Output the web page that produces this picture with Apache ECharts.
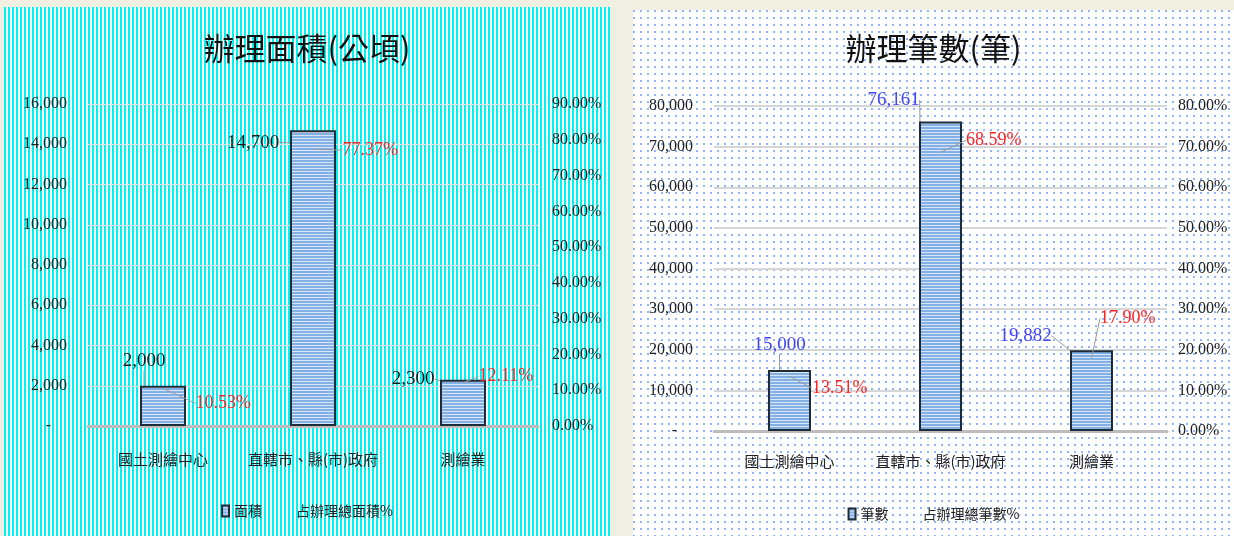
<!DOCTYPE html>
<html>
<head>
<meta charset="utf-8">
<script src="https://cdn.jsdelivr.net/npm/echarts@6/dist/echarts.min.js"></script>
<style>
html, body { margin: 0; padding: 0; width: 1234px; height: 536px; overflow: hidden; background: #f1eee2; }
#area { position: absolute; left: 4px; top: 7px; width: 606px; height: 529px;
  background: repeating-linear-gradient(90deg, #00f2f2 0, #00f2f2 2px, #ffffff 2px, #ffffff 4px); }
#count { position: absolute; left: 633px; top: 10px; width: 601px; height: 526px; background-color: #fff;
  background-image: radial-gradient(circle at 1px 1px, #6b9af3 0.6px, transparent 1px);
  background-size: 7px 7px; }
</style>
</head>
<body>
<div id="area"></div>
<div id="count"></div>
<script>
var categories = ['國土測繪中心', '直轄市、縣(市)政府', '測繪業'];
var areaValues = [2000, 14700, 2300];      // 面積(公頃)
var areaShare = [10.53, 77.37, 12.11];     // 占辦理總面積%
var countValues = [15000, 76161, 19882];   // 筆數
var countShare = [13.51, 68.59, 17.90];    // 占辦理總筆數%

var cjk = '"Noto Sans CJK TC", "Noto Sans CJK SC", sans-serif';
var num = '"Liberation Serif", "DejaVu Serif", serif';

function stripes() {
  var c = document.createElement('canvas');
  c.width = 4; c.height = 3;
  var g = c.getContext('2d');
  g.fillStyle = '#84b0e4';
  g.fillRect(0, 0, 4, 3);
  g.fillStyle = '#d6e6f8';
  g.fillRect(0, 2, 4, 1);
  return c;
}

function thousands(v) {
  if (v === 0) return '-    ';
  return v.toLocaleString('en-US');
}

function buildOption(o) {
  var line = { show: true, lineStyle: { color: '#9a9a9a', width: 1 } };
  return {
    animation: false,
    title: {
      text: o.title, left: 'center', top: o.titleTop,
      textStyle: { fontFamily: cjk, fontSize: 31, fontWeight: 'normal', color: '#111' }
    },
    legend: {
      left: 'center', top: 492, itemWidth: 7, itemHeight: 11, itemGap: 22,
      textStyle: { fontFamily: cjk, fontSize: 14, color: '#222' },
      data: [{ name: o.barName, icon: 'rect' }, { name: o.pctName, icon: 'none' }]
    },
    grid: o.grid,
    xAxis: {
      type: 'category', data: categories,
      axisTick: { show: false },
      axisLine: { lineStyle: { color: '#bdbdbd', width: 3 } },
      axisLabel: { interval: 0, margin: o.catMargin, fontFamily: cjk, fontSize: 15, color: '#222' }
    },
    yAxis: [{
      type: 'value', min: 0, max: o.max, interval: o.step,
      axisLine: { show: false }, axisTick: { show: false },
      splitLine: { lineStyle: { color: o.gridColor, width: o.gridWidth } },
      axisLabel: { formatter: thousands, fontFamily: num, fontSize: 16, color: '#222', margin: 21 }
    }, {
      type: 'value', min: 0, max: o.pctMax, interval: 10,
      axisLine: { show: false }, axisTick: { show: false },
      splitLine: { show: false },
      axisLabel: { formatter: function (v) { return v.toFixed(2) + '%'; },
        fontFamily: num, fontSize: 16, color: '#222', margin: o.pctMargin }
    }],
    series: [{
      name: o.barName, type: 'bar', data: o.values, barWidth: o.barWidth,
      itemStyle: { color: { image: stripes(), repeat: 'repeat' }, borderColor: '#1e2b38', borderWidth: 2 },
      label: { show: true, position: 'top', distance: 5,
        formatter: function (p) { return p.value.toLocaleString('en-US'); },
        fontFamily: num, fontSize: 19, color: o.valueColor },
      labelLayout: function (p) { var s = o.valueShift[p.dataIndex]; return { dx: s[0], dy: s[1] }; },
      labelLine: line
    }, {
      name: o.pctName, type: 'line', yAxisIndex: 1, data: o.share,
      symbol: 'circle', symbolSize: 1,
      itemStyle: { color: 'rgba(0,0,0,0)' },
      lineStyle: { width: 0, opacity: 0 },
      label: { show: true, position: 'right', distance: 5,
        formatter: function (p) { return p.value.toFixed(2) + '%'; },
        fontFamily: num, fontSize: 18, color: '#ff2323' },
      labelLayout: function (p) { var s = o.shareShift[p.dataIndex]; return { dx: s[0], dy: s[1] }; },
      labelLine: line
    }]
  };
}

var areaChart = echarts.init(document.getElementById('area'), null, { renderer: 'canvas' });
areaChart.setOption(buildOption({
  title: '辦理面積(公頃)', titleTop: 21,
  barName: '面積', pctName: '占辦理總面積%',
  values: areaValues, share: areaShare,
  max: 16000, step: 2000, pctMax: 90,
  grid: { left: 84, right: 72, top: 97, bottom: 110 },
  catMargin: 26, pctMargin: 14, barWidth: 46,
  gridColor: '#e2e2e2', gridWidth: 1,
  valueColor: '#1a1a1a',
  valueShift: [[-19, -10], [-60, 27], [-50, 14]],
  shareShift: [[27, 15], [24, 1], [10, -6]]
}));

var countChart = echarts.init(document.getElementById('count'), null, { renderer: 'canvas' });
countChart.setOption(buildOption({
  title: '辦理筆數(筆)', titleTop: 18,
  barName: '筆數', pctName: '占辦理總筆數%',
  values: countValues, share: countShare,
  max: 80000, step: 10000, pctMax: 80,
  grid: { left: 81, right: 67, top: 96, bottom: 105 },
  catMargin: 23, pctMargin: 11, barWidth: 43,
  gridColor: '#d6d6d6', gridWidth: 2,
  valueColor: '#4545f2',
  valueShift: [[-10, -11], [-47, -7], [-66, 0]],
  shareShift: [[17, 12], [20, -12], [3, -40]]
}));
</script>
</body>
</html>
